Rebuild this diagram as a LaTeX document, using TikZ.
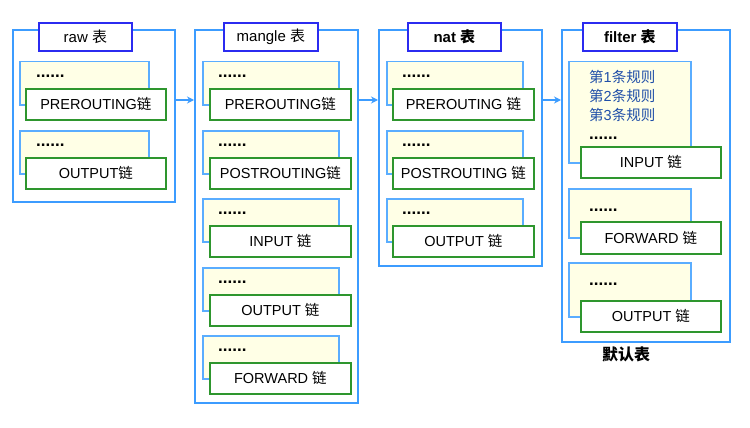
\documentclass[tikz,border=0pt]{standalone}
\usepackage{fontspec}
\setmainfont{Liberation Sans}
\newfontfamily\cjk{Noto Sans CJK SC}
\usetikzlibrary{arrows.meta}
\definecolor{outerblue}{HTML}{3C9CFF}
\definecolor{titleblue}{HTML}{2B2BF0}
\definecolor{yelfill}{HTML}{FFFFE6}
\definecolor{yelline}{HTML}{5AADFF}
\definecolor{chaingreen}{HTML}{2E962E}
\definecolor{rulecol}{HTML}{1F4EA8}
\newcommand\lian{{\cjk 链}}
\newcommand\biao{{\cjk 表}}
\newcommand\cbox[7]{\node[#1, anchor=north west, minimum width={((#5)-(#3))*1pt}, minimum height={((#6)-(#4))*1pt}] (#2) at (#3,#4) {#7};}
\tikzset{
  outerbox/.style={draw=outerblue, line width=2.2pt, inner sep=0pt},
  titlebox/.style={draw=titleblue, fill=white, line width=1.8pt, inner sep=0pt, font=\fontsize{15}{18}\selectfont},
  yelbox/.style={draw=yelline, fill=yelfill, line width=1.5pt, inner sep=0pt},
  chainbox/.style={draw=chaingreen, fill=white, line width=1.8pt, inner sep=0pt, font=\fontsize{14.5}{17}\selectfont},
  dots/.style={anchor=west, inner sep=0pt, font=\bfseries\fontsize{17}{18}\selectfont},
  flow/.style={draw=outerblue, line width=1.4pt, -{Stealth[length=7pt,width=7pt]}},
}
\begin{document}
\begin{tikzpicture}[x=1pt,y=-1pt]
\useasboundingbox (0,0) rectangle (750,428);
\fill[white] (0,0) rectangle (750,428);
% raw
\cbox{outerbox}{raw}{12}{29}{174}{201}{}
\cbox{titlebox}{rawt}{38}{22}{131}{50}{raw \biao}
\cbox{yelbox}{rawy1}{19}{61}{148}{104}{}
\node[dots] (rawd1) at (36,76) {......};
\cbox{chainbox}{rawc1}{25}{88}{165}{119}{PREROUTING\lian}
\cbox{yelbox}{rawy2}{19}{130}{148}{173}{}
\node[dots] (rawd2) at (36,145) {......};
\cbox{chainbox}{rawc2}{25}{157}{165}{188}{OUTPUT\lian}
% mangle
\cbox{outerbox}{mangle}{194}{29}{357}{402}{}
\cbox{titlebox}{manglet}{223}{22}{317}{50}{mangle \biao}
\foreach \t/\n/\txt in {61/1/PREROUTING\lian, 130/2/POSTROUTING\lian, 198/3/INPUT \lian, 267/4/OUTPUT \lian, 335/5/FORWARD \lian}{
  \cbox{yelbox}{mangley\n}{202}{\t}{338}{\t+43}{}
  \node[dots] (mangled\n) at (218,\t+15) {......};
  \cbox{chainbox}{manglec\n}{209}{\t+27}{350}{\t+58}{\txt}
}
% nat
\cbox{outerbox}{nat}{378}{29}{541}{265}{}
\cbox{titlebox}{natt}{407}{22}{500}{50}{\bfseries nat \biao}
\foreach \t/\n/\txt in {61/1/PREROUTING \lian, 130/2/POSTROUTING \lian, 198/3/OUTPUT \lian}{
  \cbox{yelbox}{naty\n}{386}{\t}{522}{\t+43}{}
  \node[dots] (natd\n) at (402,\t+15) {......};
  \cbox{chainbox}{natc\n}{392}{\t+27}{533}{\t+58}{\txt}
}
% filter
\cbox{outerbox}{filter}{561}{29}{729}{341}{}
\cbox{titlebox}{filtert}{582}{22}{676}{50}{\bfseries filter \biao}
\cbox{yelbox}{filtery1}{568}{61}{690}{162}{}
\node[anchor=north west, inner sep=0pt, text=rulecol, font=\fontsize{14.5}{19}\selectfont, align=left] (rules) at (589,70) {{\cjk 第}1{\cjk 条规则}\\{\cjk 第}2{\cjk 条规则}\\{\cjk 第}3{\cjk 条规则}};
\node[dots] (filterd1) at (589,138) {......};
\cbox{chainbox}{filterc1}{580}{146}{720}{177}{INPUT \lian}
\cbox{yelbox}{filtery2}{568}{188}{690}{237}{}
\node[dots] (filterd2) at (589,210) {......};
\cbox{chainbox}{filterc2}{580}{221}{720}{253}{FORWARD \lian}
\cbox{yelbox}{filtery3}{568}{262}{690}{316}{}
\node[dots] (filterd3) at (589,284) {......};
\cbox{chainbox}{filterc3}{580}{300}{720}{331}{OUTPUT \lian}
\node[font=\cjk\bfseries\fontsize{16}{19}\selectfont, inner sep=0pt] (deflabel) at (626,354) {默认表};
% arrows
\coordinate (ay) at (0,100);
\draw[flow] (raw.east |- ay) -- (mangle.west |- ay);
\draw[flow] (mangle.east |- ay) -- (nat.west |- ay);
\draw[flow] (nat.east |- ay) -- (filter.west |- ay);
\end{tikzpicture}
\end{document}
